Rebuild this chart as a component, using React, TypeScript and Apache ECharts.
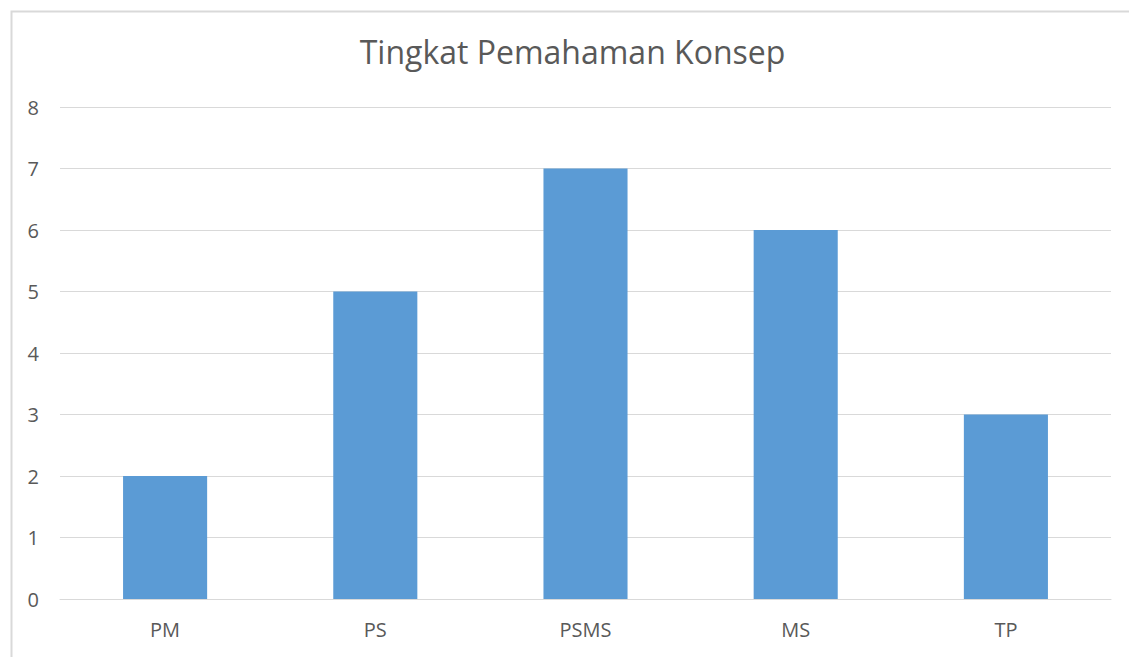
import React, { useEffect, useRef } from "react";
import * as echarts from "echarts";

const categories = ["PM", "PS", "PSMS", "MS", "TP"];
const values = [2, 5, 7, 6, 3];
const titleText = "Tingkat Pemahaman Konsep";

export default function App() {
  const ref = useRef<HTMLDivElement>(null);
  useEffect(() => {
    document.body.style.overflow = "hidden";
    const chart = echarts.init(ref.current!, null, { renderer: "svg" });
    chart.setOption({
      animation: false,
      backgroundColor: "#ffffff",
      title: {
        text: titleText,
        left: "center",
        top: 22,
        textStyle: {
          fontFamily: "Open Sans",
          fontSize: 32,
          fontWeight: "normal",
          color: "#595959",
        },
      },
      graphic: [
        {
          type: "rect",
          left: 1,
          top: 1,
          shape: { width: 2000, height: 2000 },
          style: { fill: "none", stroke: "#d9d9d9", lineWidth: 2 },
          silent: true,
        },
      ],
      grid: { left: 52, right: 26, top: 99, bottom: 58 },
      xAxis: {
        type: "category",
        data: categories,
        axisLine: { lineStyle: { color: "#d9d9d9", width: 1 } },
        axisTick: { show: false },
        axisLabel: {
          color: "#595959",
          fontSize: 20,
          fontFamily: "Open Sans",
          margin: 20,
        },
      },
      yAxis: {
        type: "value",
        min: 0,
        max: 8,
        interval: 1,
        axisLine: { show: false },
        axisTick: { show: false },
        axisLabel: {
          color: "#595959",
          fontSize: 20,
          fontFamily: "Open Sans",
          margin: 21,
        },
        splitLine: { lineStyle: { color: "#d9d9d9", width: 1 } },
      },
      series: [
        {
          type: "bar",
          data: values,
          barWidth: "40%",
          itemStyle: { color: "#5b9bd5" },
        },
      ],
    });
    return () => chart.dispose();
  }, []);
  return <div ref={ref} style={{ width: 1129, height: 649 }} />;
}
